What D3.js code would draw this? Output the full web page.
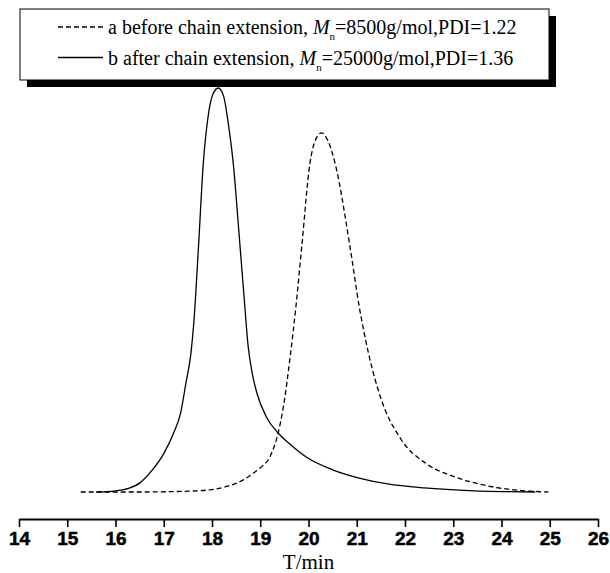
<!DOCTYPE html>
<html lang="en">
<head>
    <meta charset="UTF-8">
    <title>GPC traces before / after chain extension</title>
    <script src="https://cdnjs.cloudflare.com/ajax/libs/d3/7.8.5/d3.min.js"></script>
    <style>
        body { margin: 0; background: #fff; }
        svg { display: block; }
    </style>
</head>
<body>
    <div id="chart"></div>

    <script>
        // x values (elution time, min) and normalised detector response
        const timeA = [15.28, 16.5, 17.5, 18.0, 18.28, 18.65, 18.85, 19.0, 19.2, 19.37, 19.48, 19.62, 19.74, 19.86,
                       20.03, 20.14, 20.27, 20.4, 20.55, 20.86, 21.05, 21.25, 21.5, 21.92, 22.43, 23.07, 23.6, 24.13, 24.6, 24.97];
        const signalA = [0, 0, 0.002, 0.006, 0.013, 0.03, 0.046, 0.06, 0.087, 0.146, 0.211, 0.335, 0.46, 0.607,
                         0.814, 0.87, 0.889, 0.87, 0.814, 0.607, 0.46, 0.34, 0.232, 0.13, 0.071, 0.036, 0.018, 0.007, 0.002, 0];

        const timeB = [15.6, 16.0, 16.27, 16.5, 16.76, 17.0, 17.2, 17.35, 17.46, 17.56, 17.63, 17.72, 17.82, 17.92,
                       18.02, 18.13, 18.24, 18.34, 18.44, 18.56, 18.66, 18.75, 18.84, 18.93, 19.13, 19.37, 19.6, 19.96,
                       20.5, 21.07, 21.64, 22.4, 23.43, 24.1, 24.7];
        const signalB = [0, 0.003, 0.009, 0.022, 0.054, 0.095, 0.145, 0.196, 0.27, 0.34, 0.43, 0.607, 0.814, 0.93,
                         0.985, 1.0, 0.98, 0.91, 0.814, 0.64, 0.49, 0.36, 0.29, 0.245, 0.185, 0.146, 0.12, 0.086,
                         0.055, 0.034, 0.02, 0.01, 0.003, 0.001, 0];

        const xTicks = [14, 15, 16, 17, 18, 19, 20, 21, 22, 23, 24, 25, 26];
        const legendLabels = [
            { pre: "a before chain extension, ", mn: "8500g/mol,PDI=1.22", dash: "5,3" },
            { pre: "b after chain extension, ", mn: "25000g/mol,PDI=1.36", dash: null }
        ];

        const serif = "'Liberation Serif', 'Times New Roman', Times, serif";
        const sans = "'Liberation Sans', Arial, Helvetica, sans-serif";

        const width = 610;
        const height = 573;

        const svg = d3.select("#chart").append("svg")
            .attr("width", width)
            .attr("height", height);

        const x = d3.scaleLinear().domain([14, 26]).range([19, 598]);
        const y = d3.scaleLinear().domain([0, 1]).range([492, 88]);

        // x axis
        const axisY = 519;
        const xAxis = d3.axisBottom(x)
            .tickValues(xTicks)
            .tickFormat(d3.format("d"))
            .tickSize(8)
            .tickSizeOuter(0)
            .tickPadding(4.5);

        const gx = svg.append("g")
            .attr("transform", `translate(0,${axisY})`)
            .call(xAxis);
        gx.attr("font-family", sans).attr("font-size", 19).attr("font-weight", "bold");
        gx.select(".domain").attr("stroke", "#000").attr("stroke-width", 2.2);
        gx.selectAll(".tick line").attr("stroke", "#000").attr("stroke-width", 1.6);
        gx.selectAll(".tick text")
            .attr("fill", "#000")
            .attr("stroke", "#000")
            .attr("stroke-width", 0.5)
            .style("font-family", sans)
            .style("font-weight", "bold")
            .style("font-size", "19px");

        svg.append("text")
            .attr("x", x(20))
            .attr("y", 569)
            .attr("text-anchor", "middle")
            .style("font-family", serif)
            .style("font-size", "21px")
            .text("T/min");

        // curves
        const line = d3.line()
            .x(d => x(d[0]))
            .y(d => y(d[1]))
            .curve(d3.curveMonotoneX);

        svg.append("path")
            .datum(d3.zip(timeA, signalA))
            .attr("d", line)
            .attr("fill", "none")
            .attr("stroke", "#000")
            .attr("stroke-width", 1.3)
            .attr("stroke-dasharray", "5,3");

        svg.append("path")
            .datum(d3.zip(timeB, signalB))
            .attr("d", line)
            .attr("fill", "none")
            .attr("stroke", "#000")
            .attr("stroke-width", 1.3);

        // legend with drop shadow
        const legend = svg.append("g");
        legend.append("rect")
            .attr("x", 27).attr("y", 16)
            .attr("width", 529).attr("height", 71)
            .attr("fill", "#000");
        legend.append("rect")
            .attr("x", 20).attr("y", 9)
            .attr("width", 529).attr("height", 71)
            .attr("fill", "#fff")
            .attr("stroke", "#000")
            .attr("stroke-width", 1);

        const rowY = [34, 64.5];
        legendLabels.forEach((item, i) => {
            legend.append("line")
                .attr("x1", 58).attr("x2", 103)
                .attr("y1", rowY[i] - 7).attr("y2", rowY[i] - 7)
                .attr("stroke", "#000")
                .attr("stroke-width", 1.3)
                .attr("stroke-dasharray", item.dash);

            const t = legend.append("text")
                .attr("x", 108)
                .attr("y", rowY[i])
                .style("font-family", serif)
                .style("font-size", "20px");
            t.append("tspan").text(item.pre);
            t.append("tspan").style("font-style", "italic").text("M");
            t.append("tspan").style("font-size", "11px").attr("dy", 6).text("n");
            t.append("tspan").attr("dy", -6).text("=" + item.mn);
        });
    </script>
</body>
</html>
